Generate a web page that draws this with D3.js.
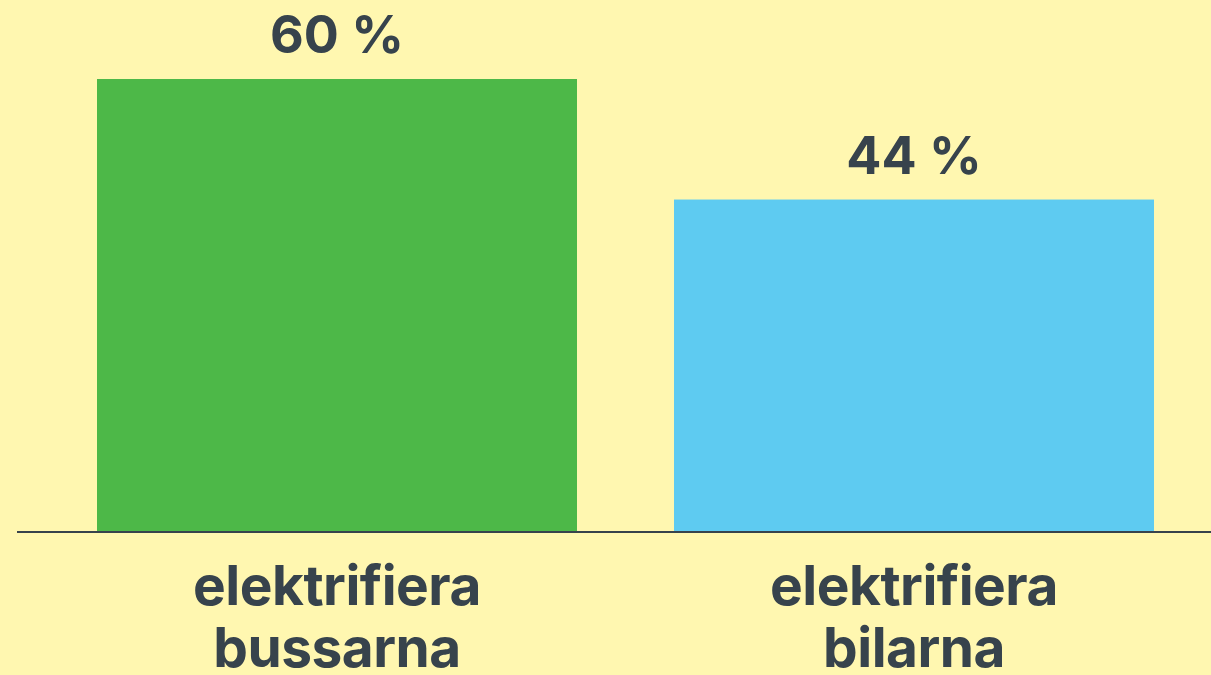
<!DOCTYPE html>
<html>
<head>
<meta charset="utf-8">
<script src="https://cdn.jsdelivr.net/npm/d3@7"></script>
<style>
  html, body { margin: 0; padding: 0; background: #fff7b0; }
  svg { display: block; }
  text { font-family: Inter, "Open Sans", sans-serif; font-weight: 700; fill: #37434c; }
</style>
</head>
<body>
<div id="chart"></div>
<script>
// DATA
const categories = [`elektrifiera bussarna`, `elektrifiera bilarna`];
const categoryLines = [[`elektrifiera`, `bussarna`], [`elektrifiera`, `bilarna`]];
const values = [60, 44];
const valueLabels = [`60 %`, `44 %`];
const colors = [`#4db848`, `#5ecbf1`];

const width = 1211;
const height = 675;
const baseY = 531;

const svg = d3.select(`#chart`)
  .append(`svg`)
  .attr(`width`, width)
  .attr(`height`, height);

// SCALES
const xScale = d3.scaleBand()
  .domain(categories)
  .range([48.5, 1202.5])
  .paddingInner(97 / 577)
  .paddingOuter(97 / 577 / 2);

const yScale = d3.scaleLinear()
  .domain([0, 60])
  .range([baseY, 79]);

// BARS
svg.selectAll(`.bar`)
  .data(categories)
  .enter()
  .append(`rect`)
  .attr(`class`, `bar`)
  .attr(`x`, d => xScale(d))
  .attr(`y`, (d, i) => yScale(values[i]))
  .attr(`width`, xScale.bandwidth())
  .attr(`height`, (d, i) => yScale(0) - yScale(values[i]))
  .attr(`fill`, (d, i) => colors[i]);

// VALUE LABELS
svg.selectAll(`.value`)
  .data(categories)
  .enter()
  .append(`text`)
  .attr(`class`, `value`)
  .attr(`x`, d => xScale(d) + xScale.bandwidth() / 2)
  .attr(`y`, (d, i) => yScale(values[i]) - 26)
  .attr(`text-anchor`, `middle`)
  .attr(`font-size`, 52)
  .attr(`letter-spacing`, 0)
  .text((d, i) => valueLabels[i]);

// AXIS
const xAxis = d3.axisBottom(xScale).tickSize(0).tickFormat(``);

const axisG = svg.append(`g`)
  .attr(`transform`, `translate(0, ${baseY + 1})`)
  .call(xAxis);

axisG.select(`.domain`).remove();

axisG.append(`line`)
  .attr(`x1`, 17)
  .attr(`x2`, width)
  .attr(`stroke`, `#37434c`)
  .attr(`stroke-width`, 2);

axisG.selectAll(`.tick`)
  .each(function (d, i) {
    const t = d3.select(this).append(`text`)
      .attr(`text-anchor`, `middle`)
      .attr(`font-size`, 55)
      .attr(`letter-spacing`, -0.5);
    categoryLines[i].forEach((line, j) => {
      t.append(`tspan`)
        .attr(`x`, 0)
        .attr(`y`, 73 + j * 62)
        .text(line);
    });
  });
</script>
</body>
</html>
